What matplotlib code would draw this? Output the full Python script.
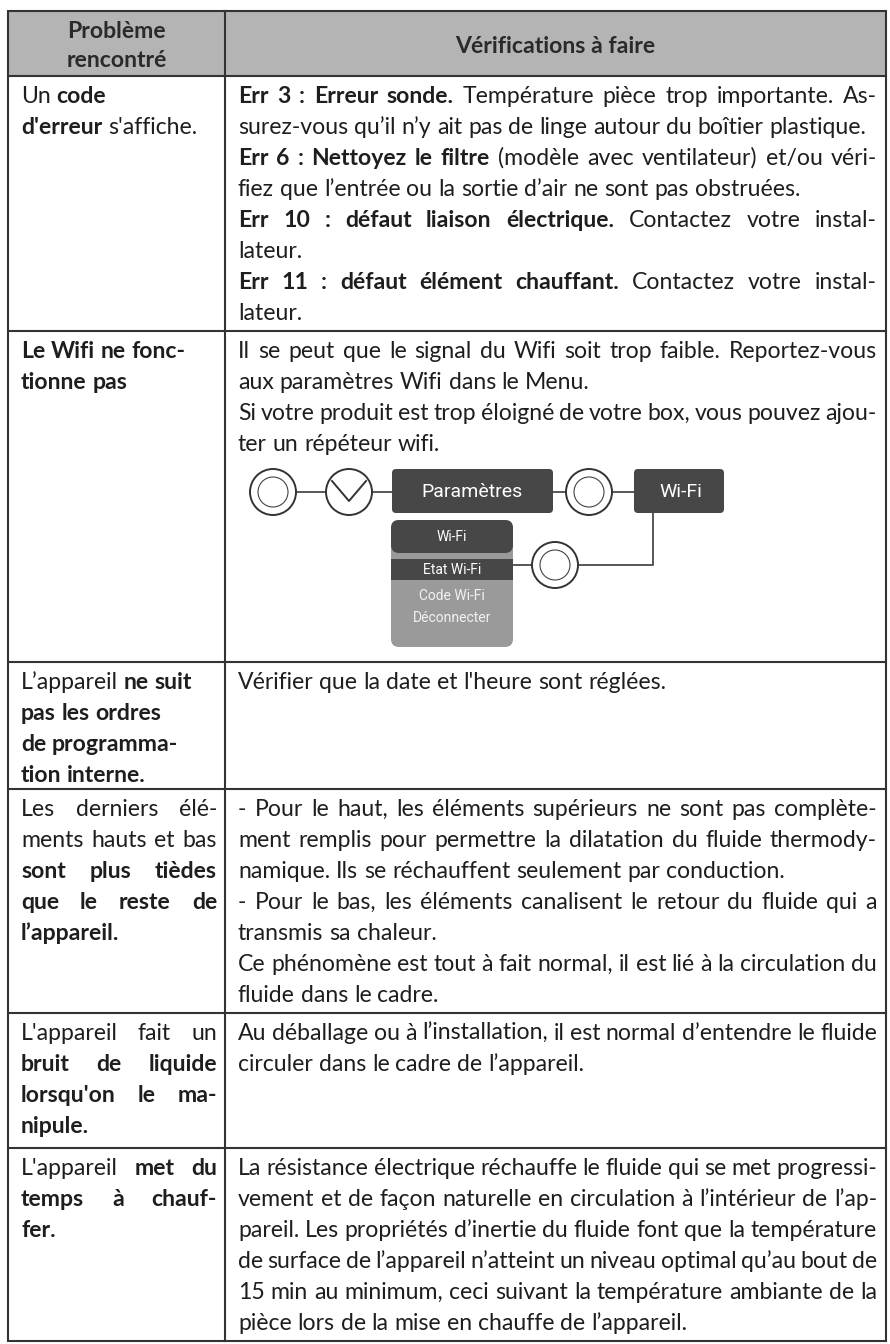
import matplotlib
matplotlib.use("Agg")
import matplotlib.pyplot as plt
from matplotlib.patches import Circle, FancyBboxPatch, Rectangle

FONT = ["Lato", "DejaVu Sans"]
DIAG_FONT = ["Roboto", "DejaVu Sans"]
INK = "#1e1e1e"

HEADER = [["Problème", "rencontré"], ["Vérifications à faire"]]

LEFT = [
    ["Un **code**", "**d'erreur** s'affiche."],
    ["**Le Wifi ne fonc-**", "**tionne pas**"],
    ["L’appareil **ne suit**", "**pas les ordres**", "**de programma-**", "**tion interne.**"],
    ["Les derniers élé-", "ments hauts et bas", "**sont plus tièdes**",
     "**que le reste de**", "**l’appareil.**"],
    ["L'appareil fait un", "**bruit de liquide**", "**lorsqu'on le ma-**", "**nipule.**"],
    ["L'appareil **met du**", "**temps à chauf-**", "**fer.**"],
]
LEFT_JUSTIFY = [False, False, False, True, True, True]

RIGHT = [
    ["**Err 3 : Erreur sonde.** Température pièce trop importante. As-",
     "surez-vous qu’il n’y ait pas de linge autour du boîtier plastique.",
     "**Err 6 : Nettoyez le filtre** (modèle avec ventilateur) et/ou véri-",
     "fiez que l’entrée ou la sortie d’air ne sont pas obstruées.",
     "**Err 10 : défaut liaison électrique.** Contactez votre instal-",
     "lateur.",
     "**Err 11 : défaut élément chauffant.** Contactez votre instal-",
     "lateur."],
    ["Il se peut que le signal du Wifi soit trop faible. Reportez-vous",
     "aux paramètres Wifi dans le Menu.",
     "Si votre produit est trop éloigné de votre box, vous pouvez ajou-",
     "ter un répéteur wifi."],
    ["Vérifier que la date et l'heure sont réglées."],
    ["- Pour le haut, les éléments supérieurs ne sont pas complète-",
     "ment remplis pour permettre la dilatation du fluide thermody-",
     "namique. Ils se réchauffent seulement par conduction.",
     "- Pour le bas, les éléments canalisent le retour du fluide qui a",
     "transmis sa chaleur.",
     "Ce phénomène est tout à fait normal, il est lié à la circulation du",
     "fluide dans le cadre."],
    ["Au déballage ou à l’installation, il est normal d’entendre le fluide",
     "circuler dans le cadre de l’appareil."],
    ["La résistance électrique réchauffe le fluide qui se met progressi-",
     "vement et de façon naturelle en circulation à l’intérieur de l’ap-",
     "pareil. Les propriétés d’inertie du fluide font que la température",
     "de surface de l’appareil n’atteint un niveau optimal qu’au bout de",
     "15 min au minimum, ceci suivant la température ambiante de la",
     "pièce lors de la mise en chauffe de l’appareil."],
]

MENU = ["Paramètres", "Wi-Fi"]
SUBMENU = ["Wi-Fi", "Etat Wi-Fi", "Code Wi-Fi", "Déconnecter"]

# table geometry (pixels)
X0, XC, X1 = 8, 225, 886
Y_TOP, Y_HEAD = 11, 76
ROW_TOPS = [76, 331, 662, 789, 1013, 1148]
Y_BOT = 1341
LINE_H = 31

fig = plt.figure(figsize=(8.9, 13.44), dpi=100)
ax = fig.add_axes([0, 0, 1, 1])
ax.set_xlim(0, 890)
ax.set_ylim(1344, 0)
ax.axis("off")
renderer = fig.canvas.get_renderer()


def text_w(s, bold, size):
    t = ax.text(0, 0, s, fontsize=size, fontweight="bold" if bold else "normal", family=FONT)
    w = t.get_window_extent(renderer).width
    t.remove()
    return w


def tokens(line):
    out = []
    parts = line.split("**")
    pending_space = False
    for i, part in enumerate(parts):
        bold = i % 2 == 1
        if part == "":
            continue
        if part.startswith(" "):
            pending_space = True
        words = part.split(" ")
        for j, w in enumerate(words):
            if w == "":
                if j > 0:
                    pending_space = True
                continue
            out.append([w, bold, pending_space and len(out) > 0])
            pending_space = True
        pending_space = part.endswith(" ")
    return out


def space_w(bold, size):
    return text_w("n n", bold, size) - text_w("nn", bold, size)


def draw_line(line, x0, x1, y, size, justify):
    toks = tokens(line)
    widths = [text_w(t[0], t[1], size) for t in toks]
    spaces = [space_w(t[1], size) if t[2] else 0 for t in toks]
    natural = sum(widths) + sum(spaces)
    gaps = sum(1 for t in toks if t[2])
    extra = 0
    if justify and gaps and not line.rstrip("*").endswith("."):
        extra = max((x1 - x0 - natural) / gaps, -1.5)
    x = x0
    for t, w, s in zip(toks, widths, spaces):
        if t[2]:
            x += s + extra
        ax.text(x, y, t[0], fontsize=size, fontweight="bold" if t[1] else "normal",
                family=FONT, color=INK, ha="left", va="baseline")
        x += w


# font size: fit a reference line to its width in the picture
ref = "surez-vous qu’il n’y ait pas de linge autour du boîtier plastique."
ref_w = sum(text_w(t[0], False, 10) + (space_w(False, 10) if t[2] else 0) for t in tokens(ref))
SIZE = 10 * 628 / ref_w

# header
ax.add_patch(Rectangle((X0, Y_TOP), X1 - X0, Y_HEAD - Y_TOP, facecolor="#b4b4b4", edgecolor="none"))
for k, s in enumerate(HEADER[0]):
    ax.text((X0 + XC) / 2, 38 + 29 * k, s, fontsize=SIZE, fontweight="bold", family=FONT,
            color="#2a2a2a", ha="center", va="baseline")
ax.text((XC + X1) / 2, 53, HEADER[1][0], fontsize=SIZE, fontweight="bold", family=FONT,
        color="#2a2a2a", ha="center", va="baseline")

# body text
for r, top in enumerate(ROW_TOPS):
    for k, line in enumerate(LEFT[r]):
        draw_line(line, 21, 217, top + 27 + k * LINE_H, SIZE, LEFT_JUSTIFY[r])
    for k, line in enumerate(RIGHT[r]):
        draw_line(line, 238, 877, top + 27 + k * LINE_H, SIZE, True)

# grid
lc = "#333333"
ax.add_patch(Rectangle((X0, Y_TOP), X1 - X0, Y_BOT - Y_TOP, facecolor="none", edgecolor=lc, lw=1.5))
ax.plot([XC, XC], [Y_TOP, Y_BOT], color=lc, lw=1.5)
for y in ROW_TOPS:
    ax.plot([X0, X1], [y, y], color=lc, lw=1.5)

# wifi diagram
dark, light, wire = "#474747", "#9a9a9a", "#4a4a4a"
cy = 492
R, r_in = 23, 15


def knob(x, y, inner=True):
    ax.add_patch(Circle((x, y), R, facecolor="white", edgecolor="#333333", lw=1.4, zorder=3))
    if inner:
        ax.add_patch(Circle((x, y), r_in, facecolor="white", edgecolor="#444444", lw=0.8, zorder=4))


def box(x, y, w, h, color, rad):
    ax.add_patch(FancyBboxPatch((x, y), w, h, boxstyle=f"round,pad=0,rounding_size={rad}",
                                facecolor=color, edgecolor="none", zorder=3))


ax.plot([273, 653, 653, 555], [cy, cy, 565, 565], color=wire, lw=1.3, zorder=2)
ax.plot([500, 555], [565, 565], color=wire, lw=1.3, zorder=2)
knob(273, cy)
knob(349, cy, inner=False)
ax.plot([332, 349, 366], [481, 501, 481], color="#333333", lw=1.4, zorder=4)
box(392, 469, 161, 44, dark, 4)
ax.text(472, cy, MENU[0], fontsize=14, family=DIAG_FONT, color="white", ha="center", va="center", zorder=5)
knob(589, cy)
box(634, 469, 90, 44, dark, 4)
ax.text(681, cy, MENU[1], fontsize=14, family=DIAG_FONT, color="white", ha="center", va="center", zorder=5)
knob(555, 565)

box(391, 520, 122, 127, light, 8)
box(391, 520, 122, 33, dark, 8)
ax.add_patch(Rectangle((391, 559), 122, 21, facecolor=dark, edgecolor="none", zorder=3))
sub_y = [537, 570, 596, 618]
for s, y in zip(SUBMENU, sub_y):
    ax.text(452, y, s, fontsize=10, family=DIAG_FONT, color="white" if y < 590 else "#f2f2f2",
            ha="center", va="center", zorder=5)

fig.savefig("out.png", dpi=100)
